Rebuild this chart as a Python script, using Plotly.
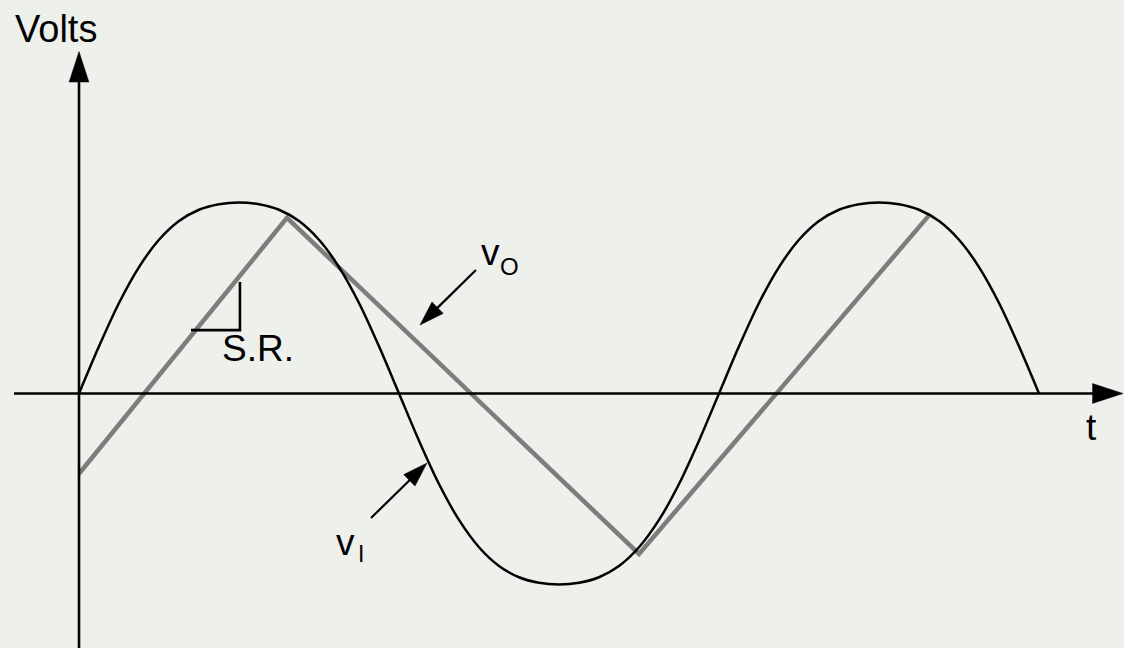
import plotly.graph_objects as go

# Input sine v_I, read every 1/32 of a period (period = 4 time units)
t_in = [i * 0.125 for i in range(49)]
v_in = [
    0.0, 0.247, 0.474, 0.662, 0.805, 0.903, 0.962, 0.991,
    1.0, 0.991, 0.962, 0.903, 0.805, 0.662, 0.474, 0.247,
    0.0, -0.247, -0.474, -0.662, -0.805, -0.903, -0.962, -0.991,
    -1.0, -0.991, -0.962, -0.903, -0.805, -0.662, -0.474, -0.247,
    0.0, 0.247, 0.474, 0.662, 0.805, 0.903, 0.962, 0.991,
    1.0, 0.991, 0.962, 0.903, 0.805, 0.662, 0.474, 0.247,
    0.0,
]

# Slew-rate-limited output v_O: corners of the triangular response
t_out = [0.0, 1.30, 3.50, 5.31]
v_out = [-0.42, 0.92, -0.84, 0.93]

INK = "#000000"
GREY = "#7d7d7d"
BG = "#eef0ec"
FONT = "Liberation Sans, Arial, Helvetica, sans-serif"

X_RANGE = [-0.49375, 6.53125]
Y_RANGE = [-1.3325, 2.0602]

fig = go.Figure()

# output waveform (grey) under the input sine (black)
fig.add_trace(go.Scatter(x=t_out, y=v_out, mode="lines",
                         line=dict(color=GREY, width=4.5),
                         hoverinfo="skip", showlegend=False))
fig.add_trace(go.Scatter(x=t_in, y=v_in, mode="lines",
                         line=dict(color=INK, width=2.5, shape="spline", smoothing=0.8),
                         hoverinfo="skip", showlegend=False))


def arrow(x0, y0, x1, y1, width, head):
    """Straight line from (x0, y0) with a filled arrowhead at (x1, y1)."""
    return go.Scatter(
        x=[x0, x1], y=[y0, y1], mode="lines+markers",
        line=dict(color=INK, width=width),
        marker=dict(symbol=["circle", "arrow"], size=[0, head], angleref="previous",
                    color=INK, opacity=1, line=dict(width=0.5, color=INK)),
        hoverinfo="skip", showlegend=False, cliponaxis=False)


# time axis and voltage axis
fig.add_trace(arrow(-0.406, 0.0, 6.525, 0.0, 2.6, 32))
fig.add_trace(arrow(0.0, -1.3325, 0.0, 1.79, 2.6, 32))

# pointers to the two waveforms
fig.add_trace(arrow(2.481, 0.6466, 2.131, 0.3586, 2.2, 26))
fig.add_trace(arrow(1.825, -0.652, 2.175, -0.364, 2.2, 26))

# slope marker for the slew rate
fig.add_trace(go.Scatter(x=[0.70, 1.006, 1.006], y=[0.332, 0.332, 0.584], mode="lines",
                         line=dict(color=INK, width=2.6),
                         hoverinfo="skip", showlegend=False))


def label(x, y, text, size, xanchor="left"):
    return dict(x=x, y=y, xref="x", yref="y", text=text, showarrow=False,
                font=dict(family=FONT, size=size, color=INK),
                xanchor=xanchor, yanchor="middle", borderpad=0)


fig.update_layout(
    width=1124, height=648,
    margin=dict(l=0, r=0, t=0, b=0),
    paper_bgcolor=BG, plot_bgcolor=BG,
    xaxis=dict(range=X_RANGE, visible=False, fixedrange=True),
    yaxis=dict(range=Y_RANGE, visible=False, fixedrange=True),
    annotations=[
        label(-0.405, 1.911, "Volts", 38),
        label(6.33, -0.18, "t", 37, "center"),
        label(0.89, 0.238, "S.R.", 37),
        label(1.60, -0.778, "v", 37),
        label(1.76, -0.842, "I", 23, "center"),
        label(2.505, 0.738, "v", 37),
        label(2.6875, 0.664, "O", 24, "center"),
    ],
)

fig.write_html("out.html")
